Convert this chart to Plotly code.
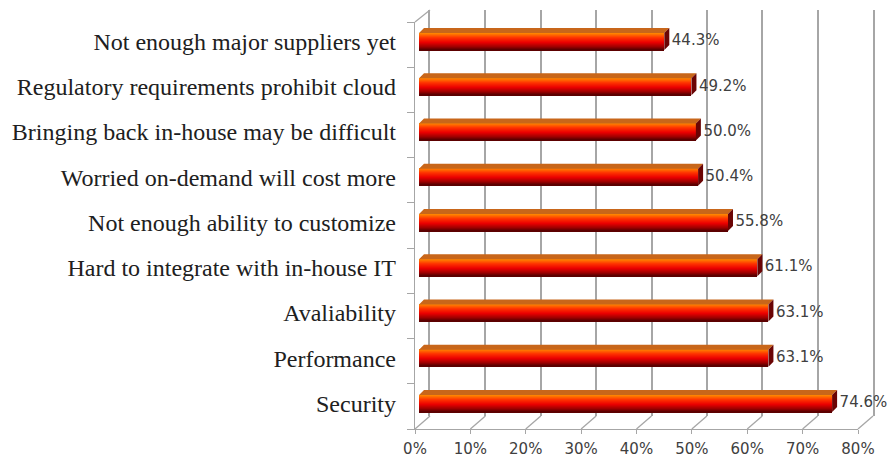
import plotly.graph_objects as go

# ---------------- data ----------------
categories = [
    "Not enough major suppliers yet",
    "Regulatory requirements prohibit cloud",
    "Bringing back in-house may be difficult",
    "Worried on-demand will cost more",
    "Not enough ability to customize",
    "Hard to integrate with in-house IT",
    "Avaliability",
    "Performance",
    "Security",
]
values = [0.443, 0.492, 0.500, 0.504, 0.558, 0.611, 0.631, 0.631, 0.746]
x_ticks = [0.0, 0.1, 0.2, 0.3, 0.4, 0.5, 0.6, 0.7, 0.8]
x_tick_labels = ["0%", "10%", "20%", "30%", "40%", "50%", "60%", "70%", "80%"]

# ---------------- geometry (pixels) ----------------
W, H = 891, 460
FRONT_X0, FRONT_X1 = 415, 858
FRONT_Y0, FRONT_Y1 = 22, 429
BACK_X0, BACK_X1 = 430, 873
BACK_Y0, BACK_Y1 = 10, 416
BAR_X0, BAR_X1 = 419, 862
BAR_Y0, BAR_Y1 = 18.9, 426.1
XMAX = 0.8
n = len(categories)
row_px = (BAR_Y1 - BAR_Y0) / n
px_per_unit = (BAR_X1 - BAR_X0) / XMAX

def px(x):
    return x / W

def py(y):
    return 1 - y / H

face_h = 17 / row_px          # front face thickness (category units)
dx = 5 / px_per_unit          # depth in x (value units)
dy = 5 / row_px               # depth in y (category units)

rows = list(range(n))

fig = go.Figure()

# invisible anchors so the back-wall and front-frame subplots get drawn
fig.add_trace(go.Scatter(x=[0.4], y=[0.5], mode="markers", marker=dict(opacity=0),
                         xaxis="x", yaxis="y", hoverinfo="skip", showlegend=False))
fig.add_trace(go.Scatter(x=[0.4], y=[4.5], mode="markers", marker=dict(opacity=0),
                         xaxis="x2", yaxis="y2", hoverinfo="skip", showlegend=False))

# ---- front face: gradient stripes ----
def lerp(c1, c2, t):
    return tuple(int(round(a + (b - a) * t)) for a, b in zip(c1, c2))

stops = [(0.0, (255, 140, 0)), (0.28, (255, 50, 0)), (0.55, (235, 0, 0)),
         (0.8, (160, 0, 0)), (1.0, (80, 0, 0))]

def grad(t):
    for (t0, c0), (t1, c1) in zip(stops[:-1], stops[1:]):
        if t <= t1:
            return lerp(c0, c1, (t - t0) / (t1 - t0))
    return stops[-1][1]

N = 17
sh = face_h / N
for k in range(N):
    c = grad((k + 0.5) / N)
    fig.add_trace(go.Bar(
        x=values, y=rows, base=0, orientation="h",
        width=sh * 1.25, offset=-face_h / 2 + k * sh,
        marker=dict(color="rgb(%d,%d,%d)" % c, line=dict(width=0)),
        xaxis="x3", yaxis="y3", hoverinfo="skip", showlegend=False,
    ))

# ---- top face & end cap polygons ----
tx, ty, cx, cy = [], [], [], []
for r, v in zip(rows, values):
    top = r - face_h / 2
    bot = r + face_h / 2
    tx += [0, v, v + dx, dx, 0, None]
    ty += [top, top, top - dy, top - dy, top, None]
    cx += [v, v + dx, v + dx, v, v, None]
    cy += [top, top - dy, bot - dy, bot, top, None]
fig.add_trace(go.Scatter(x=tx, y=ty, mode="lines", fill="toself",
                         fillcolor="#c8661a", line=dict(width=0),
                         xaxis="x3", yaxis="y3", hoverinfo="skip", showlegend=False))
fig.add_trace(go.Scatter(x=cx, y=cy, mode="lines", fill="toself",
                         fillcolor="#6a0404", line=dict(width=0),
                         xaxis="x3", yaxis="y3", hoverinfo="skip", showlegend=False))

# ---- value labels ----
fig.add_trace(go.Scatter(
    x=[v + dx * 1.5 for v in values], y=rows, mode="text",
    text=["%.1f%%" % (v * 100) for v in values], textposition="middle right",
    textfont=dict(family="DejaVu Sans", size=15, color="#404040"),
    cliponaxis=False,
    xaxis="x3", yaxis="y3", hoverinfo="skip", showlegend=False,
))

# ---- floor / wall diagonals ----
grid_col = "#a6a6a6"
shapes = []
for t in x_ticks:
    fx = FRONT_X0 + (FRONT_X1 - FRONT_X0) * t / XMAX
    bx = BACK_X0 + (BACK_X1 - BACK_X0) * t / XMAX
    shapes.append(dict(type="line", xref="paper", yref="paper",
                       x0=px(fx), y0=py(FRONT_Y1), x1=px(bx), y1=py(BACK_Y1),
                       line=dict(color=grid_col, width=1.3), layer="below"))
shapes.append(dict(type="line", xref="paper", yref="paper",
                   x0=px(FRONT_X0), y0=py(FRONT_Y0), x1=px(BACK_X0), y1=py(BACK_Y0),
                   line=dict(color=grid_col, width=1.3), layer="below"))

fig.update_layout(
    width=W, height=H,
    margin=dict(l=0, r=0, t=0, b=0, pad=0, autoexpand=False),
    paper_bgcolor="white", plot_bgcolor="rgba(0,0,0,0)",
    barmode="overlay", bargap=0,
    showlegend=False,
    shapes=shapes,
    # back wall
    xaxis=dict(domain=[px(BACK_X0), px(BACK_X1)], range=[0, XMAX], anchor="y",
               tickvals=x_ticks, showticklabels=False, ticks="",
               showgrid=True, gridcolor=grid_col, gridwidth=1.5,
               zeroline=False, showline=False, automargin=False),
    yaxis=dict(domain=[py(BACK_Y1), py(BACK_Y0)], range=[0, 1], anchor="x",
               showticklabels=False, ticks="", showgrid=False, zeroline=False,
               showline=True, mirror=True, linecolor=grid_col, linewidth=1.5,
               automargin=False),
    # front frame
    xaxis2=dict(domain=[px(FRONT_X0), px(FRONT_X1)], range=[0, XMAX], anchor="y2",
                tickvals=x_ticks, ticktext=x_tick_labels, ticks="outside",
                ticklen=4, tickcolor=grid_col, tickwidth=1.3,
                showgrid=False, zeroline=False, showline=True,
                linecolor=grid_col, linewidth=1.3, ticklabelstandoff=2,
                automargin=False,
                tickfont=dict(family="DejaVu Sans", size=15, color="#404040")),
    yaxis2=dict(domain=[py(FRONT_Y1), py(FRONT_Y0)], range=[0, n], anchor="x2",
                tickvals=list(range(n + 1)), showticklabels=False,
                ticks="outside", ticklen=7, tickcolor=grid_col, tickwidth=1.3,
                showgrid=False, zeroline=False, showline=True,
                linecolor=grid_col, linewidth=1.3, automargin=False),
    # bars
    xaxis3=dict(domain=[px(BAR_X0), px(BAR_X1)], range=[0, XMAX], anchor="y3",
                visible=False, automargin=False),
    yaxis3=dict(domain=[py(BAR_Y1), py(BAR_Y0)], range=[n - 0.5, -0.5], anchor="x3",
                tickvals=rows, ticktext=categories, ticks="",
                showgrid=False, zeroline=False, showline=False,
                ticklabelstandoff=22, automargin=False,
                tickfont=dict(family="Liberation Serif", size=24, color="#202020")),
)

fig.write_html("out.html")
